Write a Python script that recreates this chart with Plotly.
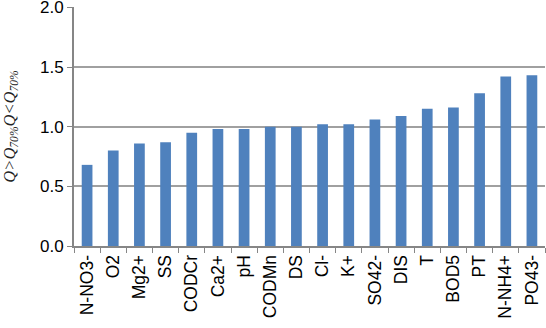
import plotly.graph_objects as go

categories = ["N-NO3-", "O2", "Mg2+", "SS", "CODCr", "Ca2+", "pH", "CODMn", "DS",
              "Cl-", "K+", "SO42-", "DIS", "T", "BOD5", "PT", "N-NH4+", "PO43-"]
values = [0.68, 0.80, 0.86, 0.87, 0.95, 0.98, 0.98, 1.00, 1.00,
          1.02, 1.02, 1.06, 1.09, 1.15, 1.16, 1.28, 1.42, 1.43]
y_ticks = [0.0, 0.5, 1.0, 1.5, 2.0]
y_tick_labels = ["0.0", "0.5", "1.0", "1.5", "2.0"]

fig = go.Figure(go.Bar(x=categories, y=values, marker=dict(color="#4F81BD", line=dict(width=0))))

fig.update_layout(
    width=546, height=328,
    margin=dict(l=74, r=1, t=7, b=82),
    paper_bgcolor="white", plot_bgcolor="white",
    bargap=0.59,
    showlegend=False,
    font=dict(family="Liberation Sans, Arial", color="black"),
)
fig.update_xaxes(
    automargin=False,
    showline=True, linecolor="#868686", linewidth=2,
    ticks="outside", tickson="boundaries", ticklen=5, tickcolor="#868686", tickwidth=1,
    tickangle=-90, tickfont=dict(size=17.5, family="Liberation Sans, Arial"),
    showgrid=False,
)
fig.update_yaxes(
    automargin=False,
    range=[0, 2.003], tickvals=y_ticks, ticktext=y_tick_labels,
    ticklabeloverflow="allow",
    showline=True, linecolor="#868686", linewidth=2,
    ticks="outside", ticklen=5, tickcolor="#868686", tickwidth=1,
    tickfont=dict(size=17, family="Liberation Sans, Arial"),
    showgrid=True, gridcolor="#A0A0A0", gridwidth=1.5,
    zeroline=False,
    title=dict(text="<i>Q&gt;Q<sub>70%</sub>Q&lt;Q<sub>70%</sub></i>",
               font=dict(size=16.5, family="Liberation Serif, Times New Roman", color="#222222"),
               standoff=22),
)

fig.write_html("out.html")
